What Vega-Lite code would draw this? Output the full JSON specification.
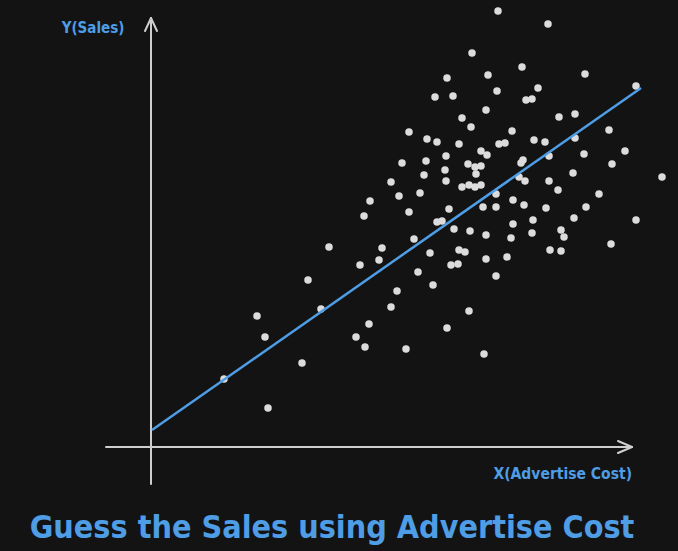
{
  "$schema": "https://vega.github.io/schema/vega-lite/v6.json",
  "width": 678,
  "height": 500,
  "padding": {"left": 0, "top": 0, "right": 0, "bottom": 8},
  "background": "#131313",
  "config": {"view": {"stroke": null}},
  "title": {
    "text": "Guess the Sales using Advertise Cost",
    "orient": "bottom",
    "anchor": "middle",
    "font": "DejaVu Sans Condensed",
    "fontWeight": "bold",
    "fontSize": 32,
    "color": "#4e9de5",
    "offset": 13,
    "dx": -7
  },
  "datasets": {
    "points": [
      {"cost":347,"sales":436},{"cost":397,"sales":423},{"cost":321,"sales":394},{"cost":371,"sales":380},
      {"cost":434,"sales":373},{"cost":296,"sales":369},{"cost":337,"sales":372},{"cost":485,"sales":361},
      {"cost":346,"sales":356},{"cost":387,"sales":359},{"cost":284,"sales":350},{"cost":302,"sales":351},
      {"cost":375,"sales":347},{"cost":381,"sales":348},{"cost":335,"sales":337},{"cost":311,"sales":329},
      {"cost":408,"sales":330},{"cost":424,"sales":333},{"cost":320,"sales":320},{"cost":361,"sales":316},
      {"cost":458,"sales":317},{"cost":258,"sales":315},{"cost":276,"sales":308},{"cost":286,"sales":305},
      {"cost":308,"sales":303},{"cost":348,"sales":303},{"cost":354,"sales":304},{"cost":383,"sales":307},
      {"cost":394,"sales":305},{"cost":424,"sales":309},{"cost":295,"sales":291},{"cost":330,"sales":296},
      {"cost":336,"sales":292},{"cost":398,"sales":291},{"cost":433,"sales":293},{"cost":474,"sales":296},
      {"cost":251,"sales":284},{"cost":275,"sales":286},{"cost":372,"sales":287},{"cost":370,"sales":284},
      {"cost":317,"sales":283},{"cost":324,"sales":280},{"cost":330,"sales":281},{"cost":325,"sales":273},
      {"cost":294,"sales":277},{"cost":461,"sales":283},{"cost":422,"sales":274},{"cost":511,"sales":270},
      {"cost":273,"sales":272},{"cost":240,"sales":265},{"cost":295,"sales":266},{"cost":311,"sales":260},
      {"cost":318,"sales":262},{"cost":324,"sales":260},{"cost":330,"sales":262},{"cost":368,"sales":270},
      {"cost":374,"sales":266},{"cost":398,"sales":266},{"cost":407,"sales":257},{"cost":448,"sales":253},
      {"cost":345,"sales":253},{"cost":248,"sales":251},{"cost":269,"sales":254},{"cost":362,"sales":247},
      {"cost":219,"sales":246},{"cost":373,"sales":242},{"cost":298,"sales":238},{"cost":332,"sales":240},
      {"cost":345,"sales":240},{"cost":395,"sales":239},{"cost":435,"sales":240},{"cost":258,"sales":235},
      {"cost":213,"sales":231},{"cost":286,"sales":225},{"cost":291,"sales":226},{"cost":303,"sales":218},
      {"cost":319,"sales":216},{"cost":335,"sales":212},{"cost":362,"sales":223},{"cost":382,"sales":227},
      {"cost":423,"sales":229},{"cost":485,"sales":227},{"cost":360,"sales":209},{"cost":381,"sales":214},
      {"cost":410,"sales":217},{"cost":413,"sales":210},{"cost":460,"sales":203},{"cost":279,"sales":194},
      {"cost":308,"sales":197},{"cost":314,"sales":195},{"cost":335,"sales":188},{"cost":356,"sales":190},
      {"cost":399,"sales":197},{"cost":410,"sales":196},{"cost":300,"sales":182},{"cost":307,"sales":183},
      {"cost":345,"sales":171},{"cost":282,"sales":162},{"cost":318,"sales":136},{"cost":296,"sales":119},
      {"cost":333,"sales":93},{"cost":178,"sales":200},{"cost":231,"sales":199},{"cost":263,"sales":208},
      {"cost":209,"sales":182},{"cost":228,"sales":187},{"cost":267,"sales":175},{"cost":157,"sales":167},
      {"cost":246,"sales":156},{"cost":240,"sales":140},{"cost":170,"sales":138},{"cost":106,"sales":131},
      {"cost":218,"sales":123},{"cost":114,"sales":110},{"cost":205,"sales":110},{"cost":214,"sales":100},
      {"cost":255,"sales":98},{"cost":151,"sales":84},{"cost":73,"sales":68},{"cost":117,"sales":39}
    ],
    "axes": [
      {"x1":-45,"y1":0,"x2":481,"y2":0},
      {"x1":0,"y1":-37,"x2":0,"y2":429},
      {"x1":467,"y1":6,"x2":481,"y2":0},
      {"x1":467,"y1":-6,"x2":481,"y2":0},
      {"x1":-6,"y1":416,"x2":0,"y2":429},
      {"x1":6,"y1":416,"x2":0,"y2":429}
    ],
    "fit": [
      {"x1":1,"y1":17,"x2":490,"y2":359}
    ],
    "labels": [
      {"label":"Y(Sales)","x":-58,"y":419,"align":"center"},
      {"label":"X(Advertise Cost)","x":481,"y":-27,"align":"right"}
    ]
  },
  "layer": [
    {
      "data": {"name": "axes"},
      "mark": {"type": "rule", "color": "#cfcfcf", "strokeWidth": 2, "strokeCap": "round"},
      "encoding": {
        "x": {"field": "x1", "type": "quantitative", "scale": {"domain": [-151, 527], "nice": false, "zero": false}, "axis": null},
        "x2": {"field": "x2"},
        "y": {"field": "y1", "type": "quantitative", "scale": {"domain": [-53, 447], "nice": false, "zero": false}, "axis": null},
        "y2": {"field": "y2"}
      }
    },
    {
      "data": {"name": "points"},
      "mark": {"type": "circle", "size": 56, "color": "#dcdcdc", "opacity": 1},
      "encoding": {
        "x": {"field": "cost", "type": "quantitative", "title": "X(Advertise Cost)", "scale": {"domain": [-151, 527], "nice": false, "zero": false}, "axis": null},
        "y": {"field": "sales", "type": "quantitative", "title": "Y(Sales)", "scale": {"domain": [-53, 447], "nice": false, "zero": false}, "axis": null}
      }
    },
    {
      "data": {"name": "fit"},
      "mark": {"type": "rule", "color": "#4e9de5", "strokeWidth": 2.5},
      "encoding": {
        "x": {"field": "x1", "type": "quantitative", "scale": {"domain": [-151, 527], "nice": false, "zero": false}, "axis": null},
        "x2": {"field": "x2"},
        "y": {"field": "y1", "type": "quantitative", "scale": {"domain": [-53, 447], "nice": false, "zero": false}, "axis": null},
        "y2": {"field": "y2"}
      }
    },
    {
      "data": {"name": "labels"},
      "transform": [{"filter": "datum.align == 'center'"}],
      "mark": {"type": "text", "font": "DejaVu Sans Condensed", "fontWeight": "bold", "fontSize": 15, "color": "#4e9de5", "align": "center", "baseline": "middle"},
      "encoding": {
        "text": {"field": "label"},
        "x": {"field": "x", "type": "quantitative", "scale": {"domain": [-151, 527], "nice": false, "zero": false}, "axis": null},
        "y": {"field": "y", "type": "quantitative", "scale": {"domain": [-53, 447], "nice": false, "zero": false}, "axis": null}
      }
    },
    {
      "data": {"name": "labels"},
      "transform": [{"filter": "datum.align == 'right'"}],
      "mark": {"type": "text", "font": "DejaVu Sans Condensed", "fontWeight": "bold", "fontSize": 15.5, "color": "#4e9de5", "align": "right", "baseline": "middle"},
      "encoding": {
        "text": {"field": "label"},
        "x": {"field": "x", "type": "quantitative", "scale": {"domain": [-151, 527], "nice": false, "zero": false}, "axis": null},
        "y": {"field": "y", "type": "quantitative", "scale": {"domain": [-53, 447], "nice": false, "zero": false}, "axis": null}
      }
    }
  ]
}
